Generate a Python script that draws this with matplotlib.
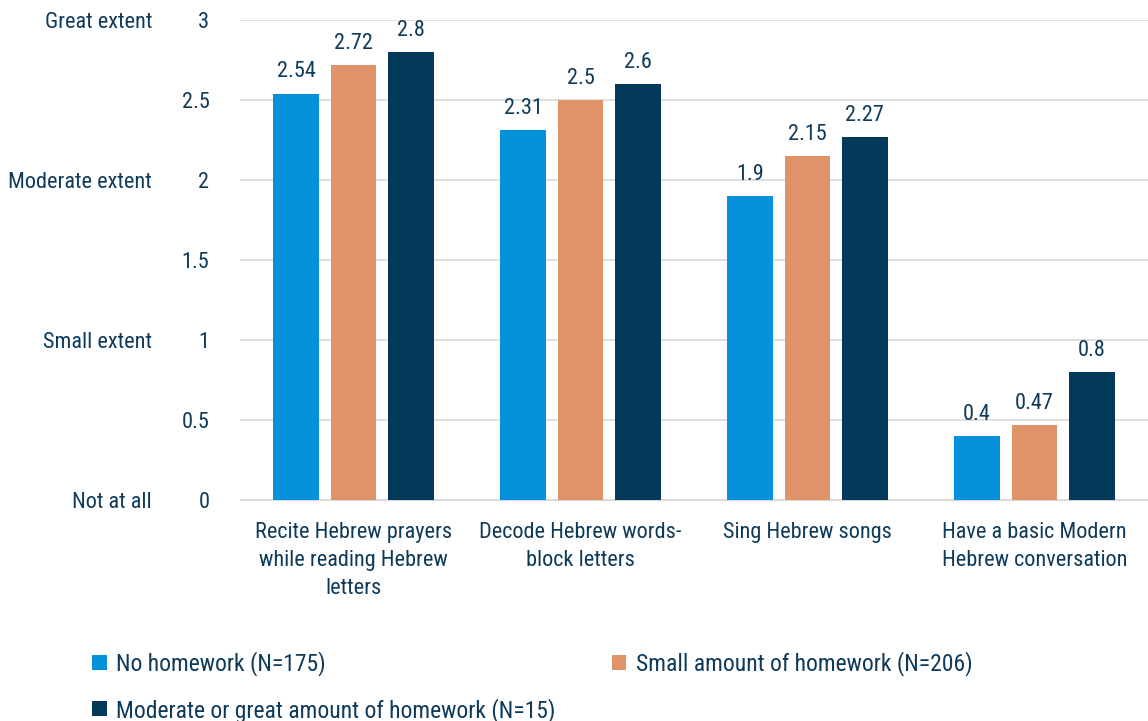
import matplotlib.pyplot as plt
from matplotlib import font_manager
import numpy as np

# pick a narrow-ish family that is installed
installed = {f.name for f in font_manager.fontManager.ttflist}
for fam in ['Liberation Sans Narrow', 'Roboto Condensed', 'Open Sans Condensed', 'Roboto', 'Lato']:
    if fam in installed:
        break
plt.rcParams['font.family'] = [fam, 'DejaVu Sans']

categories = [
    "Recite Hebrew prayers\nwhile reading Hebrew\nletters",
    "Decode Hebrew words-\nblock letters",
    "Sing Hebrew songs",
    "Have a basic Modern\nHebrew conversation",
]
series_names = [
    "No homework (N=175)",
    "Small amount of homework (N=206)",
    "Moderate or great amount of homework (N=15)",
]
no_hw = [2.54, 2.31, 1.9, 0.4]
small_hw = [2.72, 2.5, 2.15, 0.47]
moderate_hw = [2.8, 2.6, 2.27, 0.8]
yticks = [0, 0.5, 1, 1.5, 2, 2.5, 3]
extent_labels = {0: "Not at all", 1: "Small extent", 2: "Moderate extent", 3: "Great extent"}

colors = ['#0591DB', '#DE9468', '#033A5A']
text_color = '#0E3A5B'
fs = 16

fig = plt.figure(figsize=(11.48, 7.21), dpi=100)
ax = fig.add_axes([0.209, 0.3065, 0.791, 0.6658])

x = np.arange(len(categories))
offsets = [-0.253, 0, 0.253]
handles = []
for vals, off, col, name in zip([no_hw, small_hw, moderate_hw], offsets, colors, series_names):
    bars = ax.bar(x + off, vals, width=0.2, color=col, label=name, zorder=3)
    handles.append(bars)
    for b, v in zip(bars, vals):
        ax.text(b.get_x() + b.get_width() / 2, v + 0.07, f"{v:g}", ha='center', va='bottom',
                fontsize=fs, color=text_color)

ax.set_xlim(-0.5, 3.5)
ax.set_ylim(0, 3)
ax.set_yticks(yticks)
ax.set_yticklabels([f"{t:g}" for t in yticks], fontsize=fs, color=text_color,
                   va='center_baseline')
ax.tick_params(axis='y', length=0, pad=22)
ax.set_xticks(x)
ax.set_xticklabels(categories, fontsize=fs, color=text_color, linespacing=1.43)
ax.tick_params(axis='x', length=0, pad=16)
ax.yaxis.grid(True, color='#D9D9D9', linewidth=1.2, zorder=0)
for s in ax.spines.values():
    s.set_visible(False)
ax.spines['bottom'].set_visible(True)
ax.spines['bottom'].set_color('#D9D9D9')

for val, lab in extent_labels.items():
    ax.text(-0.5 - 88 / 227, val, lab, ha='right', va='center_baseline', fontsize=fs,
            color=text_color)

# legend: row 1 = first two series, row 2 = third
order = [0, 2, 1]
leg = fig.legend([handles[i] for i in order], [series_names[i] for i in order],
                 loc='upper left', bbox_to_anchor=(0.062, 0.1265), ncol=2,
                 frameon=False, fontsize=17, handlelength=0.6, handleheight=0.6,
                 handletextpad=0.4, columnspacing=2.4, labelspacing=0.92)
for t in leg.get_texts():
    t.set_color(text_color)

fig.savefig('out.png', dpi=100)
